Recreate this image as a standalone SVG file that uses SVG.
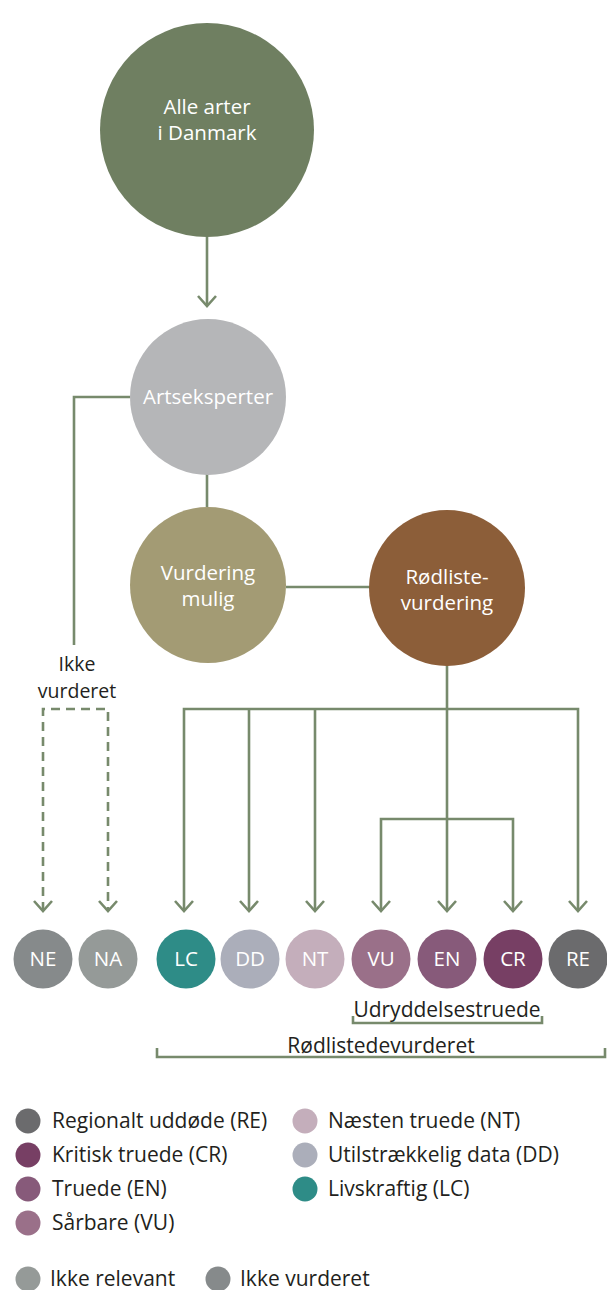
<svg xmlns="http://www.w3.org/2000/svg" width="607" height="1290" viewBox="0 0 607 1290">
<defs>
<style>
text{font-family:"Open Sans","Noto Sans","DejaVu Sans",sans-serif;}
.w{fill:#ffffff;font-size:20.5px;text-anchor:middle;}
.s{fill:#ffffff;font-size:20.5px;text-anchor:middle;}
.d{fill:#231f20;font-size:21px;}
.c{text-anchor:middle;}
.iv{font-size:19.5px;}
.ln{fill:none;stroke:#778a6c;stroke-width:2.6;}
.dash{fill:none;stroke:#778a6c;stroke-width:2.6;stroke-dasharray:9,6;}
.hd{fill:none;stroke:#778a6c;stroke-width:2.6;stroke-linejoin:miter;}
</style>
</defs>
<rect width="607" height="1290" fill="#ffffff"/>
<g id="connectors">
<path class="ln" d="M207,237 V306"/>
<polyline class="hd" points="198,296 207,306 216,296"/>
<path class="ln" d="M207,474 V507"/>
<path class="ln" d="M130,397 H74 V645"/>
<path class="ln" d="M286,587 H370"/>
<path class="dash" d="M43,911 V709 H108 V911"/>
<polyline class="hd" points="34,901 43,911 52,901"/>
<polyline class="hd" points="99,901 108,911 117,901"/>
<path class="ln" d="M447,665 V911"/>
<path class="ln" d="M184,911 V709 H578 V911"/>
<path class="ln" d="M249,709 V911"/>
<path class="ln" d="M315,709 V911"/>
<path class="ln" d="M381,911 V819 H513 V911"/>
<polyline class="hd" points="175,901 184,911 193,901"/>
<polyline class="hd" points="240,901 249,911 258,901"/>
<polyline class="hd" points="306,901 315,911 324,901"/>
<polyline class="hd" points="372,901 381,911 390,901"/>
<polyline class="hd" points="438,901 447,911 456,901"/>
<polyline class="hd" points="504,901 513,911 522,901"/>
<polyline class="hd" points="569,901 578,911 587,901"/>
<path class="ln" d="M353,1016 V1023 H542 V1016"/>
<path class="ln" d="M157,1048 V1057 H605 V1048"/>
</g>
<g id="alle-arter">
<circle cx="207" cy="130" r="107" fill="#6f7f61"/>
<text class="w" x="207" y="114">Alle arter</text>
<text class="w" x="207" y="140">i Danmark</text>
</g>
<g id="artseksperter">
<circle cx="208" cy="397" r="78" fill="#b5b6b8"/>
<text class="w" x="208" y="404">Artseksperter</text>
</g>
<g id="vurdering-mulig">
<circle cx="208" cy="585" r="78" fill="#a39b74"/>
<text class="w" x="208" y="580">Vurdering</text>
<text class="w" x="208" y="606">mulig</text>
</g>
<g id="roedliste-vurdering">
<circle cx="447" cy="588" r="78" fill="#8c5e39"/>
<text class="w" x="447" y="584">Rødliste-</text>
<text class="w" x="447" y="610">vurdering</text>
</g>
<g id="ikke-vurderet-label">
<text class="d c iv" x="77" y="671">Ikke</text>
<text class="d c iv" x="77" y="698">vurderet</text>
</g>
<g id="NE"><circle cx="43" cy="959" r="29.5" fill="#868a8b"/><text class="s" x="43" y="966">NE</text></g>
<g id="NA"><circle cx="108" cy="959" r="29.5" fill="#959a98"/><text class="s" x="108" y="966">NA</text></g>
<g id="LC"><circle cx="186" cy="959" r="29.5" fill="#2e8c87"/><text class="s" x="186" y="966">LC</text></g>
<g id="DD"><circle cx="250" cy="959" r="29.5" fill="#abaeba"/><text class="s" x="250" y="966">DD</text></g>
<g id="NT"><circle cx="315" cy="959" r="29.5" fill="#c4aebb"/><text class="s" x="315" y="966">NT</text></g>
<g id="VU"><circle cx="381" cy="959" r="29.5" fill="#9a7089"/><text class="s" x="381" y="966">VU</text></g>
<g id="EN"><circle cx="447" cy="959" r="29.5" fill="#875a7a"/><text class="s" x="447" y="966">EN</text></g>
<g id="CR"><circle cx="513" cy="959" r="29.5" fill="#773f64"/><text class="s" x="513" y="966">CR</text></g>
<g id="RE"><circle cx="578" cy="959" r="29.5" fill="#6b6b6d"/><text class="s" x="578" y="966">RE</text></g>
<g id="group-labels">
<text class="d c" x="447" y="1017">Udryddelsestruede</text>
<text class="d c" x="381" y="1053">Rødlistedevurderet</text>
</g>
<g id="legend">
<circle cx="28" cy="1121" r="12.5" fill="#6b6b6d"/><text class="d" x="52" y="1128">Regionalt uddøde (RE)</text>
<circle cx="28" cy="1155" r="12.5" fill="#773f64"/><text class="d" x="52" y="1162">Kritisk truede (CR)</text>
<circle cx="28" cy="1189" r="12.5" fill="#875a7a"/><text class="d" x="52" y="1196">Truede (EN)</text>
<circle cx="28" cy="1223" r="12.5" fill="#9a7089"/><text class="d" x="52" y="1230">Sårbare (VU)</text>
<circle cx="305" cy="1121" r="12.5" fill="#c4aebb"/><text class="d" x="328" y="1128">Næsten truede (NT)</text>
<circle cx="305" cy="1155" r="12.5" fill="#abaeba"/><text class="d" x="328" y="1162">Utilstrækkelig data (DD)</text>
<circle cx="305" cy="1189" r="12.5" fill="#2e8c87"/><text class="d" x="328" y="1196">Livskraftig (LC)</text>
<circle cx="28" cy="1279" r="12.5" fill="#959a98"/><text class="d" x="50" y="1286">Ikke relevant</text>
<circle cx="218" cy="1279" r="12.5" fill="#868a8b"/><text class="d" x="240" y="1286">Ikke vurderet</text>
</g>
</svg>
